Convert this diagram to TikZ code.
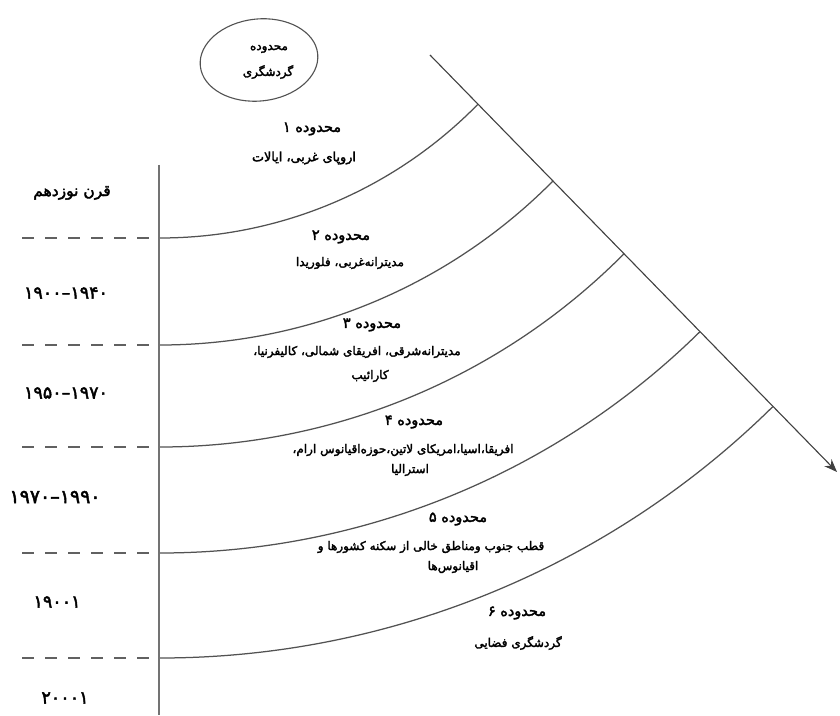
\documentclass[tikz,border=0pt]{standalone}
\usepackage{fontspec}
\TeXXeTstate=1
\newfontfamily\fa[Script=Arabic,FakeBold=2.4]{DejaVu Sans}
\usetikzlibrary{arrows.meta}
\newcommand\W[1]{\hbox{#1}}
\begin{document}
\begin{tikzpicture}[x=1pt,y=1pt,
  ttl/.style={font=\fa\fontsize{14.5}{16}\selectfont, inner sep=0pt},
  lbl/.style={font=\fa\fontsize{12}{14}\selectfont, inner sep=0pt},
  sml/.style={font=\fa\fontsize{12}{14}\selectfont, inner sep=0pt},
  yr/.style={font=\fa\fontsize{17.5}{19}\selectfont, inner sep=0pt},
  ring/.style={draw=black!68, line width=1.25pt},
  sepline/.style={draw=black!62, line width=1.1pt, dash pattern=on 12pt off 11pt},
  axisline/.style={draw=black!55, line width=1.8pt},
  diag/.style={draw=black!75, line width=1.1pt, -{Stealth[length=13pt,width=10pt]}}]
\fill[white] (0,0) rectangle (840,715);
\useasboundingbox (0,0) rectangle (840,715);

% ellipse
\draw[ring, line width=1.1pt] (259,655) ellipse [x radius=59, y radius=41, rotate=6];
\node[sml] (e1) at (269,666) {\beginR محدوده\endR};
\node[sml] (e2) at (268,643) {\beginR گردشگری\endR};

% vertical axis
\coordinate (vt) at (159,550);
\coordinate (vb) at (159,0);
\draw[axisline] (vt) -- (vb);

% diagonal arrow
\coordinate (d0) at (430,660);
\coordinate (d1) at (837,243);
\draw[diag] (d0) -- (d1);

% dashed separators
\foreach \n/\y in {1/477,2/370,3/268,4/162,5/57}{
  \coordinate (L\n) at (22,\y);
  \coordinate (R\n) at (156,\y);
  \draw[sepline] (L\n) -- (R\n);
}

% rings (arcs)
\coordinate (s1) at (160,477);
\coordinate (s2) at (160,370);
\coordinate (s3) at (160,268);
\coordinate (s4) at (160,162);
\coordinate (s5) at (160,57);
\draw[ring] (s1) arc[start angle=270, end angle=315.63, radius=444.8];
\draw[ring] (s2) arc[start angle=270, end angle=315.30, radius=552.9];
\draw[ring] (s3) arc[start angle=270, end angle=315.21, radius=653.8];
\draw[ring] (s4) arc[start angle=270, end angle=314.57, radius=769.5];
\draw[ring] (s5) arc[start angle=270, end angle=314.61, radius=872.8];

% region texts
\node[ttl] (t1) at (312,586) {\beginR محدوده ۱\endR};
\node[lbl, font=\fa\fontsize{12.8}{14}\selectfont] (b1) at (304,557) {\beginR اروپای غربی، ایالات\endR};

\node[ttl] (t2) at (341,478) {\beginR محدوده ۲\endR};
\node[lbl] (b2) at (350,452) {\beginR مدیترانه‌غربی، فلوریدا\endR};

\node[ttl] (t3) at (372,390) {\beginR محدوده ۳\endR};
\node[lbl] (b3) at (357,363) {\beginR مدیترانه‌شرقی، افریقای شمالی، کالیفرنیا،\endR};
\node[lbl] (c3) at (370,339) {\beginR کارائیب\endR};

\node[ttl] (t4) at (414,293) {\beginR محدوده ۴\endR};
\node[lbl] (b4) at (403,265) {\beginR افریقا،اسیا،امریکای لاتین،حوزه‌اقیانوس ارام،\endR};
\node[lbl] (c4) at (410,245) {\beginR استرالیا\endR};

\node[ttl] (t5) at (458,196) {\beginR محدوده ۵\endR};
\node[lbl] (b5) at (431,168) {\beginR قطب جنوب ومناطق خالی از سکنه کشورها و\endR};
\node[lbl] (c5) at (453,148) {\beginR اقیانوس‌ها\endR};

\node[ttl] (t6) at (517,102) {\beginR محدوده ۶\endR};
\node[lbl] (b6) at (518,72) {\beginR گردشگری فضایی\endR};

% period labels
\node[yr, font=\fa\fontsize{15.5}{17}\selectfont] (p0) at (72,522) {\beginR قرن نوزدهم\endR};
\node[yr] (p1) at (66,422) {\W{۱۹۰۰}\W{–}\W{۱۹۴۰}};
\node[yr] (p2) at (66,322) {\W{۱۹۵۰}\W{–}\W{۱۹۷۰}};
\node[yr, font=\fa\fontsize{19}{21}\selectfont] (p3) at (55,218) {\W{۱۹۷۰}\W{–}\W{۱۹۹۰}};
\node[yr] (p4) at (57,113) {\W{۱۹۰۰۱}};
\node[yr] (p5) at (65,17) {\W{۲۰۰۰۱}};
\end{tikzpicture}
\end{document}
